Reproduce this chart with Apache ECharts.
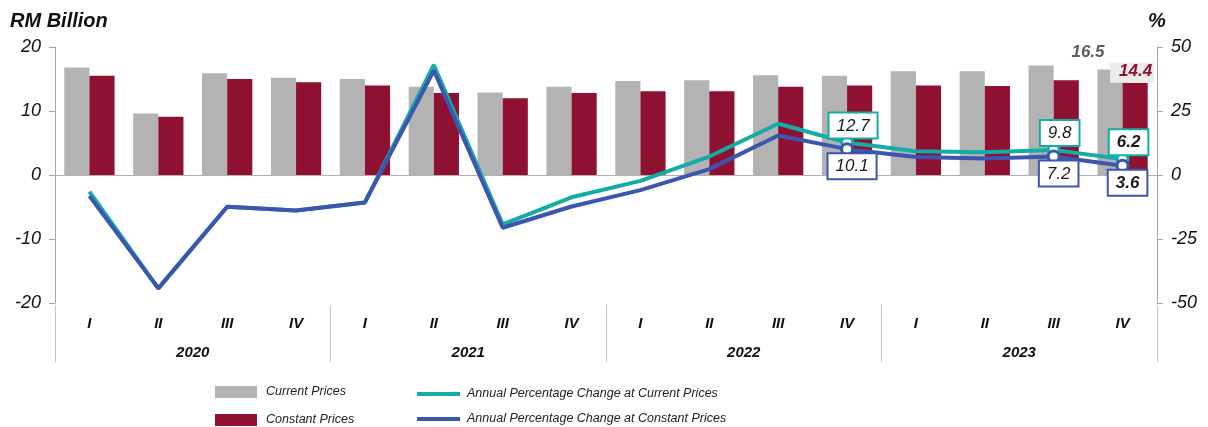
<!DOCTYPE html>
<html>
<head>
<meta charset="utf-8">
<script src="https://cdn.jsdelivr.net/npm/echarts@6/dist/echarts.min.js"></script>
<style>
  html, body { margin: 0; padding: 0; background: #ffffff; }
  #chart { width: 1208px; height: 427px; }
</style>
</head>
<body>
<div id="chart"></div>
<script>
// Quarterly values, RM billion, and annual percentage change
const quarters = ['I', 'II', 'III', 'IV', 'I', 'II', 'III', 'IV', 'I', 'II', 'III', 'IV', 'I', 'II', 'III', 'IV'];
const years = ['2020', '2021', '2022', '2023'];
const currentPrices = [16.8, 9.6, 15.9, 15.2, 15.0, 13.8, 12.9, 13.8, 14.7, 14.8, 15.6, 15.5, 16.2, 16.2, 17.1, 16.5];
const constantPrices = [15.5, 9.1, 15.0, 14.5, 14.0, 12.8, 12.0, 12.8, 13.1, 13.1, 13.8, 14.0, 14.0, 13.9, 14.8, 14.4];
const pctCurrent = [-6.5, -44.3, -12.4, -13.9, -10.7, 43.0, -19.3, -8.7, -2.3, 7.2, 20.0, 12.7, 9.3, 8.9, 9.8, 6.2];
const pctConstant = [-8.2, -44.3, -12.4, -13.9, -10.7, 40.8, -20.6, -12.3, -5.9, 2.3, 15.4, 10.1, 7.0, 6.4, 7.2, 3.6];
const labelledPoints = [11, 14, 15];
const leftTicks = { min: -20, max: 20, interval: 10 };
const rightTicks = { min: -50, max: 50, interval: 25 };

const FONT = 'Liberation Sans, Arial, sans-serif';
const GREY = '#b3b3b3';
const MAROON = '#8e1131';
const TEAL = '#16aca6';
const BLUE = '#3b56af';
const last = currentPrices.length - 1;

function barData(values, labelStyle) {
  return values.map((v, i) => i === last ? { value: v, label: labelStyle } : v);
}

function lineData(values, color, position) {
  return values.map((v, i) => {
    if (labelledPoints.indexOf(i) < 0) return v;
    return {
      value: v,
      symbolSize: 11,
      label: {
        show: true,
        position: position,
        distance: position === 'top' ? -1 : -2,
        offset: position === 'top' ? [6, 1] : [5, 0],
        fontFamily: FONT,
        fontStyle: 'italic',
        fontWeight: i === last ? 'bold' : 'normal',
        fontSize: 17,
        color: '#1a1a1a',
        backgroundColor: '#ffffff',
        borderColor: color,
        borderWidth: 2,
        padding: [4, 7, 3, 7],
        formatter: (p) => p.value.toFixed(1)
      }
    };
  });
}

const legendText = { fontFamily: FONT, fontStyle: 'italic', fontSize: 12.5, lineHeight: 16, color: '#222' };

const chart = echarts.init(document.getElementById('chart'), null, { renderer: 'canvas' });

chart.setOption({
  animation: false,
  backgroundColor: '#ffffff',
  grid: { left: 55, right: 51, top: 47, bottom: 124, containLabel: false },
  legend: [
    {
      data: ['Current Prices', 'Constant Prices'],
      orient: 'vertical',
      left: 215, top: 384, height: 60, padding: 0,
      itemWidth: 42, itemHeight: 12, itemGap: 12,
      icon: 'rect',
      selectedMode: false,
      textStyle: Object.assign({ padding: [0, 0, 0, 4] }, legendText)
    },
    {
      data: [
        { name: 'Annual Percentage Change at Current Prices', itemStyle: { color: TEAL, borderWidth: 0 } },
        { name: 'Annual Percentage Change at Constant Prices', itemStyle: { color: BLUE, borderWidth: 0 } }
      ],
      orient: 'vertical',
      left: 417, top: 386, height: 60, padding: 0,
      itemWidth: 43, itemHeight: 4, itemGap: 9,
      icon: 'rect',
      selectedMode: false,
      textStyle: Object.assign({ padding: [0, 0, 0, 2] }, legendText)
    }
  ],
  xAxis: [
    {
      // base axis for all marks; its line marks the zero level
      type: 'category',
      data: quarters,
      axisLine: { show: true, onZero: true, lineStyle: { color: '#b0b0b0', width: 1 } },
      axisTick: { show: false },
      axisLabel: { show: false }
    },
    {
      type: 'category',
      data: quarters,
      position: 'bottom',
      axisLine: { show: false, onZero: false },
      axisTick: { show: false },
      axisLabel: {
        margin: 13,
        fontFamily: FONT, fontStyle: 'italic', fontWeight: 'bold', fontSize: 15, color: '#111'
      }
    },
    {
      type: 'category',
      data: years,
      position: 'bottom',
      offset: 59,
      axisLine: { show: false, onZero: false },
      axisTick: { show: true, inside: true, length: 57, lineStyle: { color: '#c4c4c4', width: 1 } },
      axisLabel: {
        inside: true, margin: 2,
        fontFamily: FONT, fontStyle: 'italic', fontWeight: 'bold', fontSize: 15, color: '#111'
      }
    }
  ],
  yAxis: [
    {
      type: 'value',
      min: leftTicks.min, max: leftTicks.max, interval: leftTicks.interval,
      name: 'RM Billion',
      nameLocation: 'end',
      nameGap: 16,
      nameTextStyle: {
        fontFamily: FONT, fontStyle: 'italic', fontWeight: 'bold', fontSize: 20, color: '#111',
        align: 'left', padding: [0, 0, 0, -45]
      },
      axisLine: { show: true, lineStyle: { color: '#a6a6a6' } },
      axisTick: { show: true, length: 6, lineStyle: { color: '#a6a6a6' } },
      splitLine: { show: false },
      axisLabel: { margin: 14, fontFamily: FONT, fontStyle: 'italic', fontSize: 18, color: '#111' }
    },
    {
      type: 'value',
      position: 'right',
      min: rightTicks.min, max: rightTicks.max, interval: rightTicks.interval,
      name: '%',
      nameLocation: 'end',
      nameGap: 16,
      nameTextStyle: { fontFamily: FONT, fontStyle: 'italic', fontWeight: 'bold', fontSize: 20, color: '#111' },
      axisLine: { show: true, lineStyle: { color: '#a6a6a6' } },
      axisTick: { show: true, length: 6, lineStyle: { color: '#a6a6a6' } },
      splitLine: { show: false },
      axisLabel: { margin: 14, fontFamily: FONT, fontStyle: 'italic', fontSize: 18, color: '#111' }
    }
  ],
  series: [
    {
      name: 'Current Prices',
      type: 'bar',
      xAxisIndex: 0, yAxisIndex: 0,
      barGap: '0%',
      barCategoryGap: '27%',
      itemStyle: { color: GREY },
      data: barData(currentPrices, {
        show: true, position: 'top', offset: [-22, -4],
        fontFamily: FONT, fontStyle: 'italic', fontWeight: 'bold', fontSize: 17, color: '#5f5f5f'
      })
    },
    {
      name: 'Constant Prices',
      type: 'bar',
      xAxisIndex: 0, yAxisIndex: 0,
      itemStyle: { color: MAROON },
      data: barData(constantPrices, {
        show: true, position: 'top', distance: 0, offset: [-3, 0],
        fontFamily: FONT, fontStyle: 'italic', fontWeight: 'bold', fontSize: 17, color: MAROON,
        backgroundColor: '#ececec', padding: [0, 2, 3, 9]
      })
    },
    {
      name: 'Annual Percentage Change at Current Prices',
      type: 'line',
      xAxisIndex: 0, yAxisIndex: 1,
      symbol: 'circle',
      symbolSize: 0,
      showAllSymbol: true,
      lineStyle: { color: TEAL, width: 4 },
      itemStyle: { color: '#ffffff', borderColor: TEAL, borderWidth: 3 },
      data: lineData(pctCurrent, TEAL, 'top'),
      z: 3
    },
    {
      name: 'Annual Percentage Change at Constant Prices',
      type: 'line',
      xAxisIndex: 0, yAxisIndex: 1,
      symbol: 'circle',
      symbolSize: 0,
      showAllSymbol: true,
      lineStyle: { color: BLUE, width: 4 },
      itemStyle: { color: '#ffffff', borderColor: BLUE, borderWidth: 3 },
      data: lineData(pctConstant, BLUE, 'bottom'),
      z: 4
    }
  ]
});
</script>
</body>
</html>
